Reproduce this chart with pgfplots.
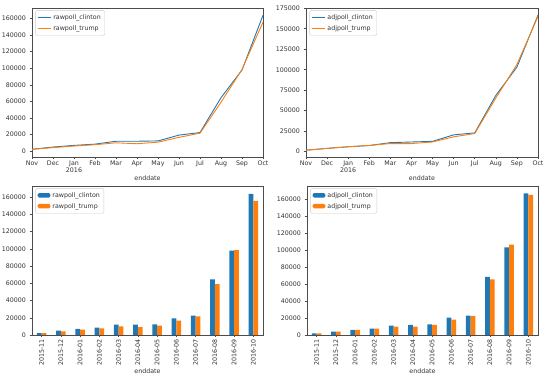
\documentclass[border=0pt]{standalone}
\usepackage{fontspec}
\setmainfont{DejaVu Sans}
\usepackage{pgfplots}
\pgfplotsset{compat=1.18}
\usepackage{pgfplotstable}
\definecolor{tabblue}{HTML}{1F77B4}
\definecolor{taborange}{HTML}{FF7F0E}
\pgfplotstableread{
x rc rt ac at
0 2300 2200 1800 1800
1 5000 4300 4000 4000
2 7000 6200 6000 6000
3 8500 7800 7500 7600
4 12000 10100 11000 9900
5 12000 9000 11800 9900
6 12400 10900 12600 11800
7 19400 16700 20500 18100
8 22500 21700 22900 22100
9 64500 59000 68600 65400
10 97900 98600 103200 106400
11 163900 155700 166700 165100
}\data
\pgfplotsset{
 base/.style={scale only axis, height=149pt, anchor=south west,
  font=\fontsize{6.3}{7.2}\selectfont,
  axis line style={black!70, line width=0.5pt},
  tick align=outside, tick style={black!70, line width=0.5pt},
  major tick length=2.5pt, xtick pos=bottom, ytick pos=left,
  /pgf/number format/fixed, /pgf/number format/1000 sep={},
  /pgf/number format/assume math mode=true,
  scaled y ticks=false, xlabel={enddate},
  tick label style={text=black!80}, label style={text=black!80},
  legend cell align=left,
  legend style={at={(0.015,0.985)}, anchor=north west, draw=black!20,
   rounded corners=1.5pt, font=\fontsize{6.3}{7.2}\selectfont, inner sep=2pt, row sep=0.5pt, text=black!80},
 },
 lineax/.style={base, xmin=0, xmax=11, xtick={0,...,11},
  xticklabels={Nov,Dec,{Jan\\2016},Feb,Mar,Apr,May,Jun,Jul,Aug,Sep,Oct},
  xticklabel style={align=center, anchor=north, inner sep=1.5pt},
  xlabel style={yshift=2pt},
  legend image code/.code={\draw[##1] (0cm,0cm) -- (0.45cm,0cm);}},
 barax/.style={base, xmin=-0.5, xmax=11.5, ymin=0, xtick={0,...,11},
  xticklabels={2015-11,2015-12,2016-01,2016-02,2016-03,2016-04,2016-05,2016-06,2016-07,2016-08,2016-09,2016-10},
  xticklabel style={rotate=90, anchor=east, inner sep=1.5pt},
  xlabel style={yshift=2pt},
  ytick={0,20000,...,160000},
  ybar, bar width=0.25,
  legend image code/.code={\fill[##1] (0cm,-0.07cm) rectangle (0.45cm,0.09cm);}},
}
\begin{document}
\begin{tikzpicture}
\useasboundingbox (0,0) rectangle (548pt,379pt);
\begin{axis}[lineax, at={(32pt,222pt)}, width=231pt, ymin=-7000, ymax=172700, ytick={0,20000,...,160000}]
\addplot[tabblue, line width=0.9pt] table[x=x,y=rc] {\data};
\addplot[taborange, line width=0.9pt] table[x=x,y=rt] {\data};
\legend{rawpoll\_clinton, rawpoll\_trump}
\end{axis}
\begin{axis}[lineax, at={(306pt,222pt)}, width=232pt, ymin=-6500, ymax=175300, ytick={0,25000,...,175000}]
\addplot[tabblue, line width=0.9pt] table[x=x,y=ac] {\data};
\addplot[taborange, line width=0.9pt] table[x=x,y=at] {\data};
\legend{adjpoll\_clinton, adjpoll\_trump}
\end{axis}
\begin{axis}[barax, at={(32pt,44pt)}, width=231pt, ymax=173000]
\addplot[fill=tabblue, draw=none, bar shift=-0.125] table[x=x,y=rc] {\data};
\addplot[fill=taborange, draw=none, bar shift=0.125] table[x=x,y=rt] {\data};
\legend{rawpoll\_clinton, rawpoll\_trump}
\end{axis}
\begin{axis}[barax, at={(307pt,44pt)}, width=231pt, ymax=175500]
\addplot[fill=tabblue, draw=none, bar shift=-0.125] table[x=x,y=ac] {\data};
\addplot[fill=taborange, draw=none, bar shift=0.125] table[x=x,y=at] {\data};
\legend{adjpoll\_clinton, adjpoll\_trump}
\end{axis}
\end{tikzpicture}
\end{document}
